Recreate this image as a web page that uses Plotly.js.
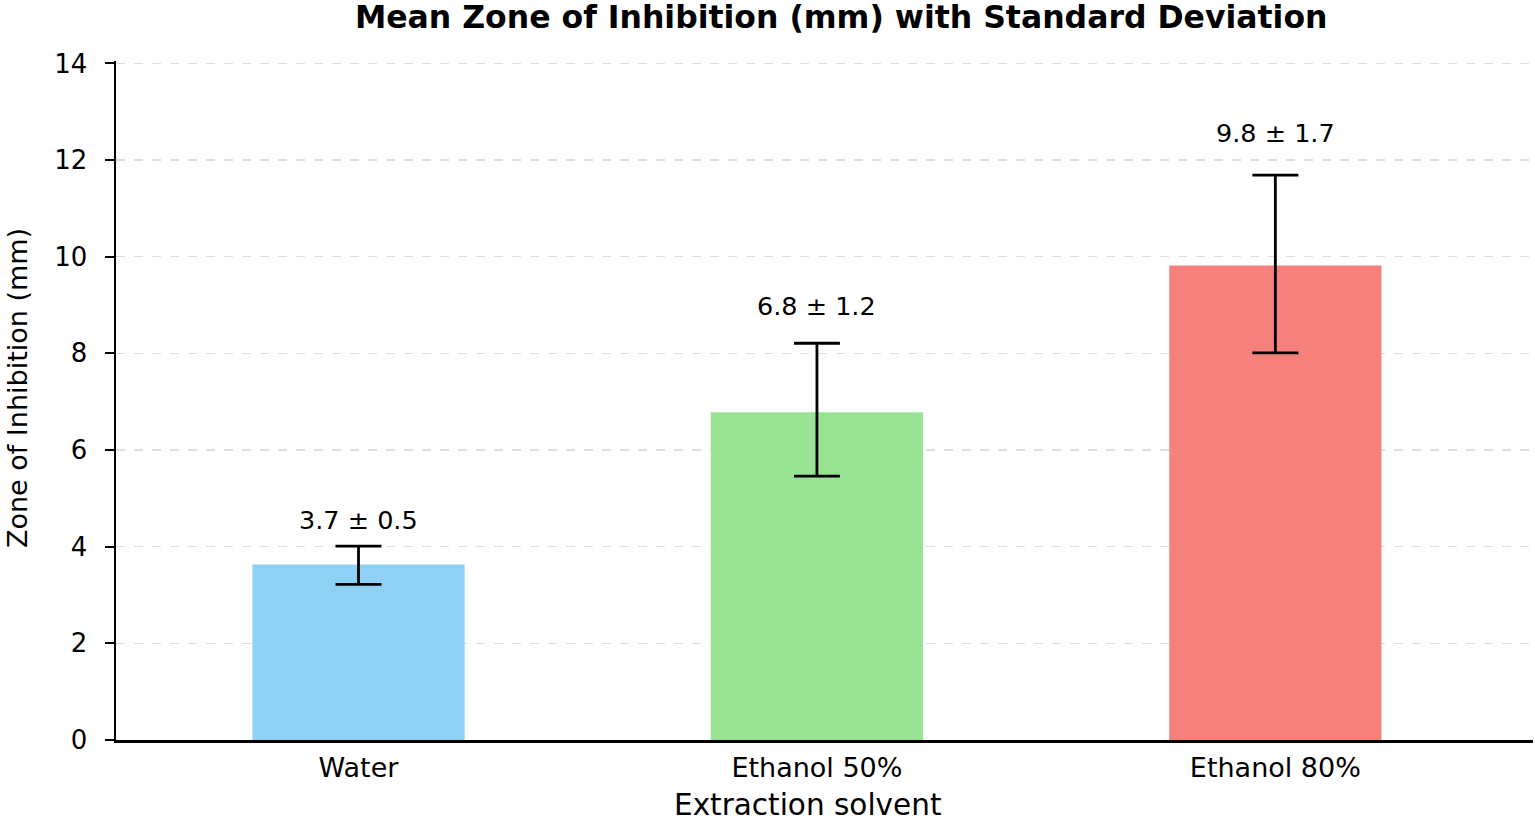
<!DOCTYPE html>
<html>
<head>
<meta charset="utf-8">
<script src="https://cdn.plot.ly/plotly-3.0.1.min.js"></script>
<style>
  html, body { margin: 0; padding: 0; background: #fff; }
  #chart { width: 1535px; height: 824px; }
</style>
</head>
<body>
<div id="chart"></div>
<script>
// extraction solvents and zone of inhibition (mm)
var solvents = ['Water', 'Ethanol 50%', 'Ethanol 80%'];
var meanZone = [3.63, 6.78, 9.82];
var errPlus = [0.38, 1.43, 1.87];
var errMinus = [0.41, 1.32, 1.81];
var labels = ['3.7 ± 0.5', '6.8 ± 1.2', '9.8 ± 1.7'];

var barColors = ['#8ED1F5', '#98E294', '#F6807C'];
var labelShift = [26, 37, 42];
var font = 'DejaVu Sans, Liberation Sans, Arial, sans-serif';

var data = [{
    x: solvents,
    y: meanZone,
    type: 'bar',
    width: 0.463,
    hoverinfo: 'none',
    showlegend: false,
    marker: {
        color: barColors,
        line: {width: 0}
    },
    error_y: {
        type: 'data',
        symmetric: false,
        array: errPlus,
        arrayminus: errMinus,
        color: '#000',
        thickness: 2.8,
        width: 23
    }
}];

var annotations = solvents.map(function(s, i) {
    return {
        x: s,
        y: meanZone[i] + errPlus[i],
        xref: 'x',
        yref: 'y',
        text: labels[i],
        showarrow: false,
        yanchor: 'middle',
        yshift: labelShift[i],
        font: {family: font, size: 25.5, color: '#000'}
    };
});

// axis titles as annotations so they sit where the original has them
annotations.push({
    text: 'Extraction solvent',
    xref: 'paper', yref: 'paper',
    x: 0.488, y: -0.0957,
    xanchor: 'center', yanchor: 'middle',
    borderpad: 0,
    showarrow: false,
    font: {family: font, size: 29.5, color: '#000'}
});
annotations.push({
    text: 'Zone of Inhibition (mm)',
    xref: 'paper', yref: 'paper',
    x: -0.07, y: 0.518,
    xanchor: 'center', yanchor: 'middle',
    textangle: -90,
    showarrow: false,
    font: {family: font, size: 27, color: '#000'}
});

var layout = {
    width: 1535,
    height: 824,
    paper_bgcolor: '#fff',
    plot_bgcolor: '#fff',
    margin: {t: 61, b: 84, l: 116, r: 2},
    font: {family: font, color: '#000'},
    title: {
        text: '<b>Mean Zone of Inhibition (mm) with Standard Deviation</b>',
        font: {family: font, size: 31.5, color: '#000'},
        x: 0.548,
        xanchor: 'center',
        y: 0.979,
        yanchor: 'middle'
    },
    xaxis: {
        type: 'category',
        range: [-0.529, 2.562],
        showline: true,
        linecolor: '#000',
        linewidth: 2.5,
        showgrid: false,
        zeroline: false,
        ticks: '',
        ticklabelstandoff: 2,
        tickfont: {family: font, size: 27, color: '#000'}
    },
    yaxis: {
        range: [0, 14.05],
        dtick: 2,
        showline: true,
        linecolor: '#000',
        linewidth: 2.5,
        ticks: 'outside',
        ticklen: 9,
        tickwidth: 2,
        tickcolor: '#000',
        ticklabelstandoff: 12,
        tickfont: {family: font, size: 26, color: '#000'},
        showgrid: true,
        gridcolor: 'rgb(222,222,222)',
        gridwidth: 1.5,
        griddash: 'dash',
        zeroline: false
    },
    bargap: 0.5,
    annotations: annotations
};

Plotly.newPlot('chart', data, layout, {displayModeBar: false, staticPlot: true});
</script>
</body>
</html>
